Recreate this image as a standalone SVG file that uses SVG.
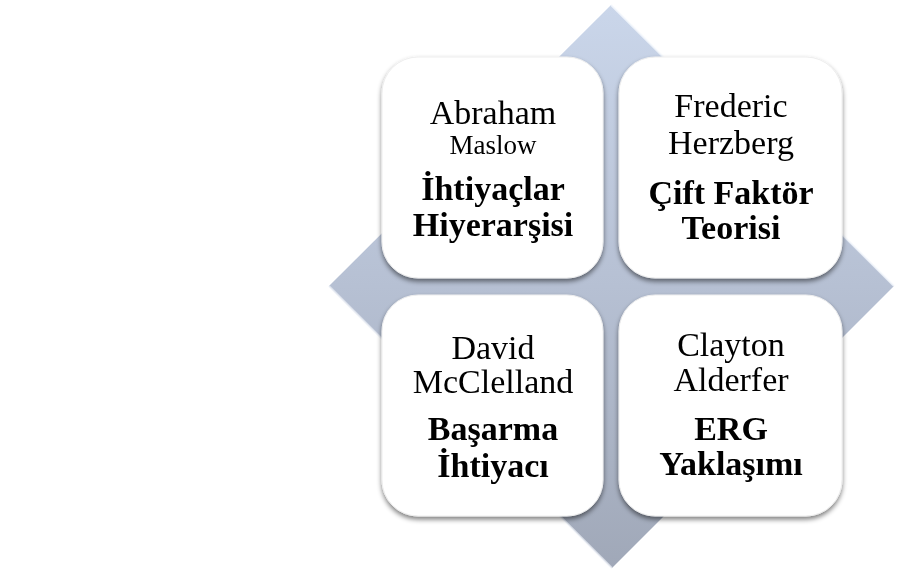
<svg xmlns="http://www.w3.org/2000/svg" width="912" height="570" viewBox="0 0 912 570">
  <defs>
    <linearGradient id="dg" x1="0" y1="0" x2="0" y2="1">
      <stop offset="0" stop-color="#cad6ea"/>
      <stop offset="0.5" stop-color="#b6c0d3"/>
      <stop offset="1" stop-color="#a0a8b8"/>
    </linearGradient>
    <filter id="sh" x="-10%" y="-10%" width="125%" height="125%">
      <feGaussianBlur in="SourceAlpha" stdDeviation="2.5"/>
      <feOffset dx="0" dy="3" result="b"/>
      <feComponentTransfer><feFuncA type="linear" slope="0.5"/></feComponentTransfer>
      <feMerge><feMergeNode/><feMergeNode in="SourceGraphic"/></feMerge>
    </filter>
  </defs>
  <style>
    .box { fill: #ffffff; stroke: #eeeeee; stroke-width: 1; }
    .t { font-family: "Liberation Serif", "Times New Roman", serif; fill: #000; text-anchor: middle; }
    .n { font-size: 34px; }
    .s { font-size: 27px; }
    .b { font-size: 34px; font-weight: bold; }
  </style>
  <rect width="912" height="570" fill="#ffffff"/>
  <g id="diamond">
    <polygon points="611,5 894,286 612,568 329,286" fill="url(#dg)"/>
    <polyline points="611,5 894,286" fill="none" stroke="#f4f7fc" stroke-width="2" opacity="0.8"/>
    <polyline points="329,286 612,568" fill="none" stroke="#e8ecf4" stroke-width="2" opacity="0.7"/>
  </g>
  <g id="node-maslow" filter="url(#sh)">
    <rect class="box" x="382" y="57" width="221" height="221" rx="36"/>
    <text class="t n" x="493" y="124">Abraham</text>
    <text class="t s" x="493" y="154">Maslow</text>
    <text class="t b" x="493" y="200">İhtiyaçlar</text>
    <text class="t b" x="493" y="236">Hiyerarşisi</text>
  </g>
  <g id="node-herzberg" filter="url(#sh)">
    <rect class="box" x="619" y="57" width="223" height="221" rx="36"/>
    <text class="t n" x="731" y="117">Frederic</text>
    <text class="t n" x="731" y="154">Herzberg</text>
    <text class="t b" x="731" y="204">Çift Faktör</text>
    <text class="t b" x="731" y="239">Teorisi</text>
  </g>
  <g id="node-mcclelland" filter="url(#sh)">
    <rect class="box" x="382" y="295" width="221" height="221" rx="36"/>
    <text class="t n" x="493" y="359">David</text>
    <text class="t n" x="493" y="393">McClelland</text>
    <text class="t b" x="493" y="440">Başarma</text>
    <text class="t b" x="493" y="477">İhtiyacı</text>
  </g>
  <g id="node-alderfer" filter="url(#sh)">
    <rect class="box" x="619" y="295" width="223" height="221" rx="36"/>
    <text class="t n" x="731" y="356">Clayton</text>
    <text class="t n" x="731" y="391">Alderfer</text>
    <text class="t b" x="731" y="440">ERG</text>
    <text class="t b" x="731" y="475">Yaklaşımı</text>
  </g>
  <g id="connectors"></g>
</svg>
